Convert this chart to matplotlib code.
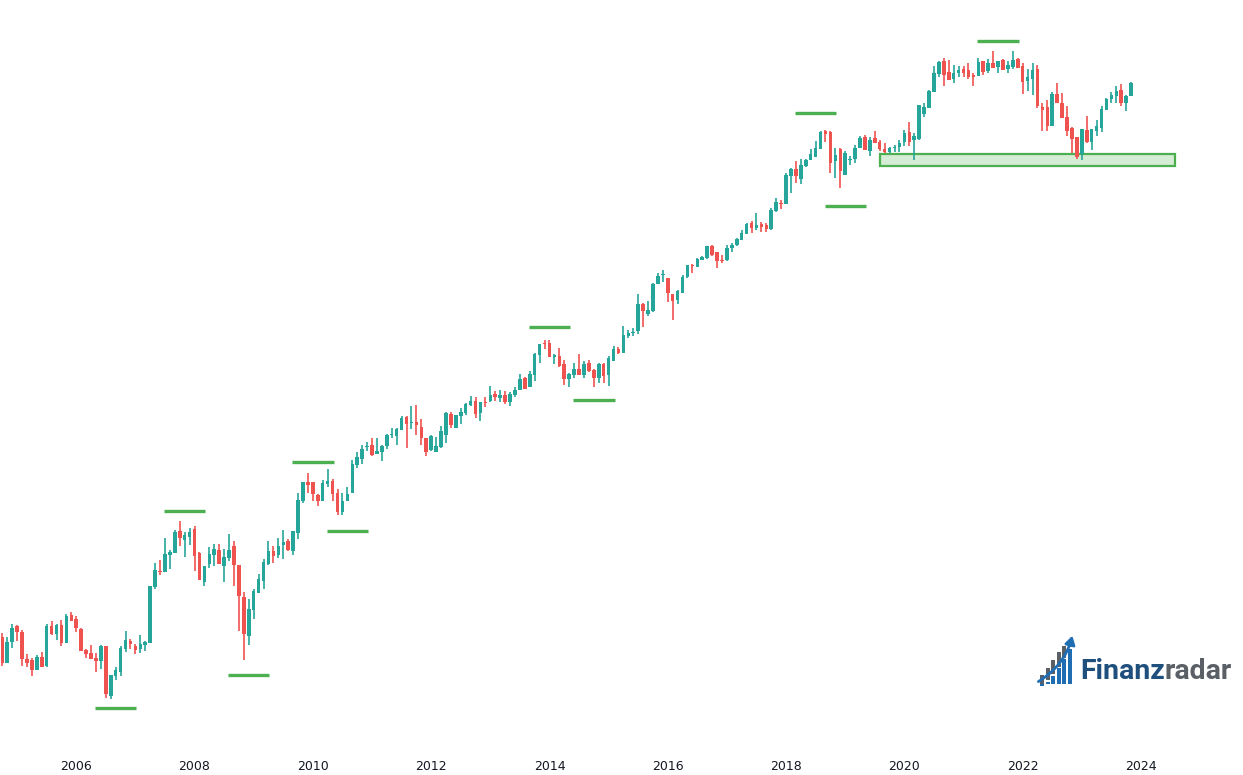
import pandas as pd
import matplotlib
matplotlib.use('Agg')
import matplotlib.pyplot as plt
from matplotlib.patches import Rectangle, FancyArrowPatch

# monthly candles, Oct 2004 .. Nov 2023 (chart units, price scale hidden)
months = pd.date_range('2004-10-01', periods=230, freq='MS')

opens = [138, 112, 133, 149, 143, 116, 115, 105, 118, 109,
         149, 141, 150, 132, 160, 156, 146, 125, 122, 117,
         114, 129, 79, 99, 103, 126, 134, 129, 126, 130,
         132, 188, 204, 203, 220, 222, 244, 235, 238, 246,
         222, 193, 211, 220, 225, 209, 217, 229, 210, 178,
         139, 165, 182, 194, 211, 224, 220, 230, 234, 224,
         242, 274, 293, 293, 280, 274, 291, 294, 282, 263,
         274, 282, 310, 316, 328, 330, 321, 323, 329, 340,
         339, 345, 358, 352, 353, 348, 337, 325, 323, 328,
         340, 361, 347, 359, 362, 370, 374, 362, 373, 374,
         381, 377, 380, 373, 380, 385, 397, 388, 400, 420,
         432, 432, 418, 419, 411, 396, 400, 406, 400, 412,
         405, 397, 411, 400, 414, 426, 422, 439, 442, 444,
         471, 461, 464, 491, 500, 497, 481, 475, 482, 498,
         510, 508, 515, 517, 529, 523, 515, 515, 527, 530,
         535, 541, 552, 547, 551, 550, 546, 564, 572, 571,
         599, 606, 596, 609, 615, 618, 626, 644, 643, 614,
         626, 600, 615, 616, 627, 638, 624, 637, 633, 626,
         623, 627, 628, 633, 643, 635, 636, 661, 667, 683,
         701, 714, 703, 696, 702, 706, 705, 700, 699, 714,
         704, 712, 708, 715, 706, 708, 716, 709, 694, 696,
         706, 668, 668, 649, 681, 672, 658, 647, 638, 621,
         645, 633, 644, 647, 665, 676, 679, 685, 672, 679]

highs = [142, 138, 151, 150, 145, 121, 117, 120, 123, 151,
         154, 151, 155, 161, 163, 159, 147, 126, 130, 122,
         130, 129, 100, 108, 129, 144, 136, 131, 140, 134,
         189, 212, 215, 237, 225, 245, 254, 243, 247, 249,
         223, 209, 228, 231, 231, 226, 241, 234, 210, 183,
         176, 186, 201, 216, 234, 229, 237, 245, 236, 244,
         282, 293, 302, 293, 281, 295, 306, 296, 286, 282,
         288, 315, 323, 330, 333, 337, 337, 330, 341, 347,
         347, 359, 359, 369, 370, 356, 337, 340, 338, 349,
         363, 363, 360, 367, 372, 379, 378, 373, 378, 389,
         384, 385, 384, 383, 388, 401, 398, 404, 422, 431,
         435, 435, 421, 427, 415, 402, 412, 421, 414, 415,
         406, 412, 412, 419, 429, 428, 449, 445, 447, 481,
         472, 474, 492, 502, 505, 497, 481, 485, 500, 510,
         511, 517, 519, 529, 530, 523, 520, 530, 532, 537,
         545, 552, 554, 562, 553, 552, 567, 577, 575, 602,
         607, 614, 616, 616, 626, 634, 644, 645, 644, 627,
         627, 624, 619, 630, 639, 640, 638, 644, 635, 632,
         628, 630, 635, 645, 653, 642, 670, 672, 685, 709,
         714, 717, 715, 710, 709, 709, 712, 702, 717, 714,
         716, 724, 714, 716, 714, 724, 717, 712, 706, 712,
         710, 672, 675, 683, 692, 682, 669, 648, 638, 646,
         659, 646, 655, 669, 677, 683, 689, 691, 680, 693]

lows = [109, 112, 127, 134, 109, 108, 99, 105, 108, 108,
        140, 135, 129, 132, 154, 143, 124, 117, 116, 103,
        106, 77, 76, 95, 99, 123, 126, 121, 122, 124,
        132, 186, 200, 203, 206, 222, 229, 218, 230, 204,
        195, 189, 207, 209, 211, 193, 214, 189, 144, 115,
        130, 156, 182, 186, 210, 212, 217, 216, 224, 220,
        236, 272, 282, 274, 269, 274, 288, 274, 260, 260,
        274, 282, 307, 311, 324, 319, 321, 314, 326, 337,
        330, 345, 327, 346, 340, 330, 319, 324, 323, 327,
        332, 347, 347, 351, 360, 369, 357, 354, 368, 373,
        374, 373, 371, 369, 378, 385, 386, 388, 394, 412,
        426, 418, 411, 408, 390, 388, 397, 400, 397, 403,
        388, 392, 392, 389, 414, 421, 422, 437, 439, 441,
        448, 459, 463, 491, 493, 473, 455, 471, 482, 497,
        502, 508, 515, 516, 519, 507, 512, 514, 523, 529,
        535, 541, 542, 545, 543, 543, 545, 563, 566, 571,
        582, 592, 591, 608, 615, 618, 626, 633, 602, 597,
        587, 600, 610, 612, 627, 625, 619, 632, 624, 622,
        622, 623, 623, 629, 629, 615, 635, 658, 667, 683,
        698, 689, 695, 692, 698, 698, 696, 689, 699, 700,
        702, 707, 702, 705, 702, 706, 707, 681, 684, 680,
        667, 644, 644, 649, 672, 657, 639, 622, 616, 615,
        632, 625, 639, 643, 665, 672, 672, 669, 664, 679]

closes = [112, 133, 147, 143, 116, 112, 105, 118, 108, 149,
          141, 150, 132, 159, 154, 147, 124, 121, 116, 114,
          129, 81, 100, 105, 127, 135, 131, 125, 131, 133,
          189, 205, 203, 221, 223, 243, 237, 240, 243, 219,
          195, 209, 221, 226, 211, 218, 225, 210, 179, 141,
          166, 184, 196, 213, 224, 219, 229, 233, 225, 244,
          275, 293, 290, 281, 274, 292, 294, 281, 263, 274,
          281, 311, 318, 326, 329, 320, 324, 329, 340, 341,
          346, 357, 351, 353, 350, 337, 323, 339, 329, 344,
          362, 350, 360, 363, 371, 374, 361, 373, 372, 380,
          378, 380, 373, 381, 385, 396, 386, 401, 421, 431,
          431, 418, 420, 409, 396, 401, 406, 400, 411, 404,
          397, 411, 399, 417, 426, 422, 440, 442, 443, 471,
          464, 465, 491, 499, 501, 482, 474, 484, 498, 510,
          509, 516, 518, 529, 520, 514, 514, 527, 530, 536,
          542, 551, 547, 550, 548, 546, 565, 573, 571, 600,
          606, 599, 610, 615, 621, 627, 643, 641, 612, 620,
          604, 622, 616, 627, 637, 625, 635, 632, 626, 623,
          627, 628, 632, 642, 633, 639, 670, 668, 684, 702,
          713, 700, 695, 702, 705, 702, 698, 698, 713, 703,
          712, 707, 714, 705, 710, 715, 707, 693, 698, 705,
          669, 665, 649, 681, 672, 657, 644, 636, 618, 646,
          633, 646, 649, 666, 676, 680, 684, 672, 679, 692]

# swing highs / lows marked with short green lines (month, level)
swing_months = ['2006-09', '2007-11', '2008-12', '2010-01', '2010-08',
                '2014-01', '2014-10', '2018-07', '2019-01', '2021-08']
swing_levels = [67, 264, 100, 313, 244, 448, 375, 662, 569, 734]

# support zone
zone_start, zone_end = '2019-08', '2024-08'
zone_low, zone_high = 609, 621

year_ticks = [2006, 2008, 2010, 2012, 2014, 2016, 2018, 2020, 2022, 2024]

UP = '#26a69a'
DOWN = '#ef5350'
MARK = '#4caf50'


def month_pos(s):
    t = pd.Timestamp(s)
    return (t.year - months[0].year) * 12 + t.month - months[0].month


fig = plt.figure(figsize=(12.43, 7.75), dpi=100)
ax = fig.add_axes([0, 30 / 775, 1, 745 / 775])

x = list(range(len(months)))
colors = [UP if c >= o else DOWN for o, c in zip(opens, closes)]
bottoms = [min(o, c) for o, c in zip(opens, closes)]
heights = [max(abs(c - o), 1.0) for o, c in zip(opens, closes)]

ax.vlines(x, lows, highs, colors=colors, linewidth=1.2, zorder=2)
ax.bar(x, heights, bottom=bottoms, width=0.72, color=colors,
       linewidth=0, zorder=3)

for m, lvl in zip(swing_months, swing_levels):
    p = month_pos(m)
    ax.plot([p - 4.2, p + 4.2], [lvl, lvl], color=MARK, linewidth=2.4,
            solid_capstyle='butt', zorder=4)

z0, z1 = month_pos(zone_start), month_pos(zone_end)
ax.add_patch(Rectangle((z0, zone_low), z1 - z0, zone_high - zone_low,
                       facecolor='#d5ecd5', edgecolor=MARK, linewidth=1.6,
                       zorder=1))

ax.set_xlim(-0.47, 251.7)
ax.set_ylim(30, 775)
ax.set_xticks([month_pos(f'{y}-01') for y in year_ticks])
ax.set_xticklabels([str(y) for y in year_ticks],
                   family=['Liberation Sans Narrow', 'DejaVu Sans'])
ax.tick_params(axis='x', length=0, pad=11, labelsize=9, colors='#131722')
ax.set_yticks([])
for s in ax.spines.values():
    s.set_visible(False)

# logo
lg = fig.add_axes([1030 / 1243, 1 - 692 / 775, 212 / 1243, 62 / 775])
lg.set_xlim(1030, 1242)
lg.set_ylim(692, 630)
lg.axis('off')
BLUE = '#1f6db3'
GREY = '#5b5f66'
bar_left = [1040, 1045.5, 1051, 1056.5, 1062, 1067.5]
bar_top = [675, 668, 660, 652, 646, 643]
for bx, top in zip(bar_left, bar_top):
    u = (bx + 2 - 1037) / 35
    split = 683 - 44 * u ** 1.7 + 3
    split = max(split, top)
    lg.add_patch(Rectangle((bx, top), 4.2, split - top, facecolor=GREY,
                           edgecolor='none'))
    lg.add_patch(Rectangle((bx, split + 1.5), 4.2, 684 - split - 1.5,
                           facecolor=BLUE, edgecolor='none'))
lg.add_patch(FancyArrowPatch((1036, 683), (1073, 633),
                             connectionstyle='arc3,rad=0.22',
                             arrowstyle='-|>,head_length=5,head_width=3',
                             color=BLUE, linewidth=2.0))
t1 = lg.text(1080, 685, 'Finanz', fontsize=20.5, fontweight='bold',
             color='#1e4f7d', family='Roboto', va='bottom')
lg.annotate('radar', xy=(1, 0), xycoords=t1, fontsize=20.5,
            fontweight='bold', color=GREY, family='Roboto', va='bottom')

fig.savefig('out.png', dpi=100, facecolor='white')
